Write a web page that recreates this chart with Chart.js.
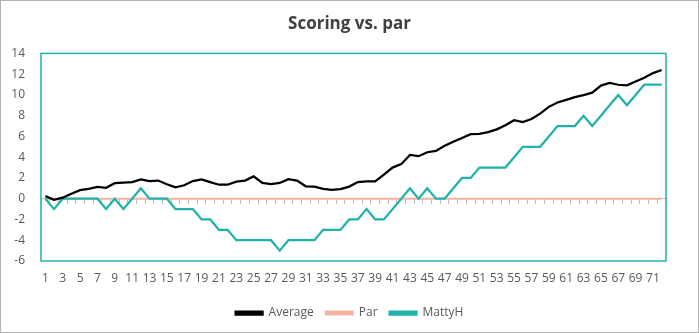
<!DOCTYPE html>
<html>
<head>
<meta charset="utf-8">
<script src="https://cdn.jsdelivr.net/npm/chart.js@4/dist/chart.umd.min.js"></script>
<style>
  body { margin: 0; background: #fff; }
  #wrap { width: 699px; height: 333px; box-sizing: border-box; border: 1px solid #b3b3b3; }
  canvas { display: block; }
</style>
</head>
<body>
<div id="wrap"><canvas id="scoreChart" width="697" height="331"></canvas></div>
<script>
const holes = Array.from({ length: 72 }, (_, i) => String(i + 1));
const average = [0.25, -0.1, 0.1, 0.48, 0.83, 0.95, 1.15, 1.05, 1.5, 1.55,
    1.6, 1.87, 1.7, 1.75, 1.4, 1.1, 1.3, 1.7, 1.87, 1.6,
    1.35, 1.35, 1.65, 1.75, 2.15, 1.52, 1.4, 1.52, 1.88, 1.75,
    1.2, 1.17, 0.95, 0.85, 0.93, 1.17, 1.6, 1.68, 1.68, 2.32,
    3.0, 3.33, 4.22, 4.1, 4.48, 4.6, 5.1, 5.48, 5.85, 6.22,
    6.25, 6.42, 6.68, 7.08, 7.56, 7.38, 7.68, 8.2, 8.85, 9.27,
    9.52, 9.78, 9.98, 10.22, 10.9, 11.15, 10.98, 10.92, 11.3, 11.65,
    12.1, 12.4];
const par = holes.map(() => 0);
const mattyH = [0, -1, 0, 0, 0, 0, 0, -1, 0, -1,
    0, 1, 0, 0, 0, -1, -1, -1, -2, -2,
    -3, -3, -4, -4, -4, -4, -4, -5, -4, -4,
    -4, -4, -3, -3, -3, -2, -2, -1, -2, -2,
    -1, 0, 1, 0, 1, 0, 0, 1, 2, 2,
    3, 3, 3, 3, 4, 5, 5, 5, 6, 7,
    7, 7, 8, 7, 8, 9, 10, 9, 10, 11,
    11, 11];

const teal = '#20b2aa';
const textGray = '#595959';

// border round the plot area
const plotBorder = {
    id: 'plotBorder',
    afterDatasetsDraw(chart) {
        const { ctx, chartArea: a } = chart;
        ctx.save();
        ctx.strokeStyle = teal;
        ctx.lineWidth = 1.5;
        ctx.strokeRect(a.left, a.top, a.right - a.left, a.bottom - a.top);
        ctx.restore();
    }
};

const ctx = document.getElementById('scoreChart').getContext('2d');
new Chart(ctx, {
    type: 'line',
    data: {
        labels: holes,
        datasets: [
            { label: 'Average', data: average, borderColor: '#000000', backgroundColor: '#000000', borderWidth: 2.25, order: 0 },
            { label: 'Par', data: par, borderColor: '#f4b3a0', backgroundColor: '#f4b3a0', borderWidth: 2, order: 2 },
            { label: 'MattyH', data: mattyH, borderColor: teal, backgroundColor: teal, borderWidth: 2.25, order: 1 }
        ]
    },
    options: {
        responsive: false,
        animation: false,
        elements: { point: { radius: 0 }, line: { tension: 0 } },
        layout: { padding: { left: 0, right: 0, top: 0, bottom: 3 } },
        scales: {
            x: {
                offset: true,
                grid: { display: false },
                border: { display: false },
                ticks: {
                    autoSkip: false, maxRotation: 0, color: textGray, padding: 2,
                    font: { family: 'Open Sans', size: 12 },
                    callback: function (v, i) { return i % 2 === 0 ? this.getLabelForValue(v) : ''; }
                },
                afterFit: s => { s.height = 34; }
            },
            zero: {
                type: 'category',
                axis: 'x',
                labels: holes,
                position: { y: 0 },
                offset: true,
                ticks: { display: false },
                grid: { offset: true, drawOnChartArea: false, drawTicks: true, tickLength: 5, color: '#bfbfbf' },
                border: { display: true, color: '#bfbfbf' }
            },
            y: {
                min: -6, max: 14,
                grid: { display: false },
                border: { display: false },
                ticks: { stepSize: 2, color: textGray, padding: 8, font: { family: 'Open Sans', size: 12 } },
                afterFit: s => { s.width = 40; }
            },
            // empty right axis, only keeps space on the right side
            spacer: {
                type: 'linear',
                position: 'right',
                grid: { display: false },
                border: { display: false },
                ticks: { display: false },
                afterFit: s => { s.width = 32; }
            }
        },
        plugins: {
            title: {
                display: true,
                text: 'Scoring vs. par',
                color: '#404040',
                font: { family: 'Open Sans', size: 17, weight: 'bold' },
                padding: { top: 13, bottom: 19 }
            },
            legend: {
                position: 'bottom',
                labels: {
                    boxWidth: 27, boxHeight: 3, padding: 12, color: textGray,
                    font: { family: 'Open Sans', size: 12 },
                    sort: (a, b) => a.datasetIndex - b.datasetIndex
                }
            },
            tooltip: { enabled: false }
        }
    },
    plugins: [plotBorder]
});
</script>
</body>
</html>
